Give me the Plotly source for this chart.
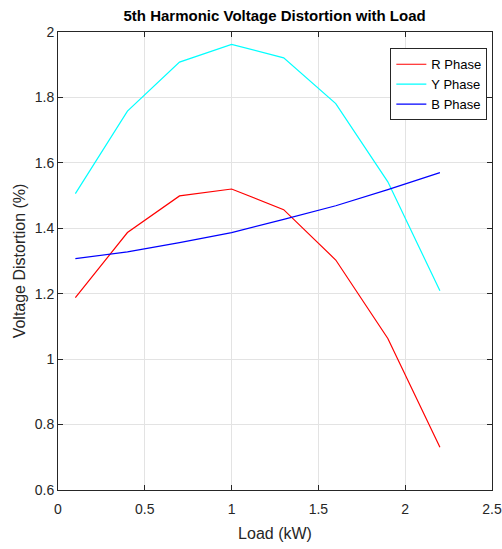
import plotly.graph_objects as go

load_kw = [0.1, 0.4, 0.7, 1.0, 1.3, 1.6, 1.9, 2.2]
r_phase = [1.188, 1.387, 1.499, 1.520, 1.457, 1.303, 1.063, 0.731]
y_phase = [1.506, 1.758, 1.908, 1.962, 1.921, 1.781, 1.542, 1.209]
b_phase = [1.307, 1.328, 1.356, 1.387, 1.427, 1.469, 1.518, 1.570]

x_ticks = [0, 0.5, 1, 1.5, 2, 2.5]
x_tick_text = ["0", "0.5", "1", "1.5", "2", "2.5"]
y_ticks = [0.6, 0.8, 1.0, 1.2, 1.4, 1.6, 1.8, 2.0]
y_tick_text = ["0.6", "0.8", "1", "1.2", "1.4", "1.6", "1.8", "2"]

series = [
    ("R Phase", r_phase, "#ff0000"),
    ("Y Phase", y_phase, "#00ffff"),
    ("B Phase", b_phase, "#0000ff"),
]

fig = go.Figure()
for name, vals, color in series:
    fig.add_trace(go.Scatter(x=load_kw, y=vals, mode="lines", name=name,
                             line=dict(color=color, width=1.2)))

font_family = "Liberation Sans, Arial, sans-serif"
tick_family = "Liberation Sans Narrow, Arial Narrow, Liberation Sans, sans-serif"
axis_common = dict(
    showgrid=True, gridcolor="#e3e3e3", gridwidth=1,
    showline=True, linecolor="#262626", linewidth=1, mirror="ticks",
    ticks="inside", ticklen=5, tickcolor="#262626", tickwidth=1,
    zeroline=False, automargin=False,
    tickfont=dict(family=tick_family, size=14, color="#262626"),
)

fig.update_layout(
    width=502, height=549,
    paper_bgcolor="white", plot_bgcolor="white",
    margin=dict(l=57.5, r=10.3, t=31.7, b=59),
    title=dict(text="<b>5th Harmonic Voltage Distortion with Load</b>",
               x=(57.5 + 491.7) / 2 / 502, xanchor="center",
               y=1 - 16 / 549, yanchor="middle",
               font=dict(family=font_family, size=15, color="#000000")),
    xaxis=dict(range=[0, 2.5], tickvals=x_ticks, ticktext=x_tick_text,
               ticklabelstandoff=6,
               title=dict(text="Load (kW)", standoff=12,
                          font=dict(family=font_family, size=16, color="#262626")),
               **axis_common),
    yaxis=dict(range=[0.6, 2.0], tickvals=y_ticks, ticktext=y_tick_text,
               title=dict(text="Voltage Distortion (%)", standoff=5,
                          font=dict(family=font_family, size=16, color="#262626")),
               **axis_common),
    legend=dict(x=(390 - 57.5) / 434.2, y=(490 - 48) / 458.3,
                xanchor="left", yanchor="top",
                bgcolor="white", bordercolor="#262626", borderwidth=1,
                font=dict(family=font_family, size=13, color="#000000"),
                tracegroupgap=0, itemwidth=30),
    showlegend=True,
)

fig.write_html("out.html", config={"displayModeBar": False},
               post_script="document.body.style.margin='0';document.body.style.overflow='hidden';")
